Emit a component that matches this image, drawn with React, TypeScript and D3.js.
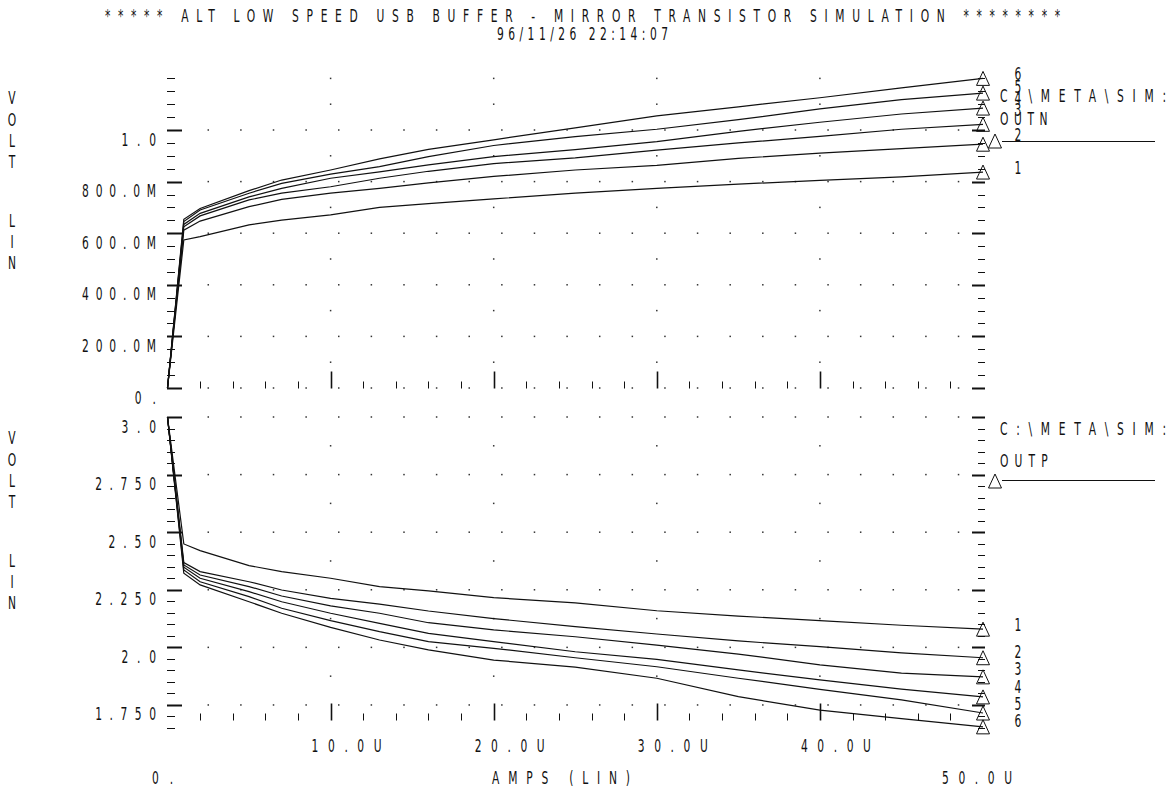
import React from "react";
import * as d3 from "d3";

// ---------- data ----------
const X_AMPS_U = [0, 1, 2, 5, 7, 10, 13, 16, 20, 25, 30, 35, 40, 45, 50];

const OUTN_1 = [0, 0.574, 0.587, 0.632, 0.651, 0.671, 0.7, 0.715, 0.733, 0.755, 0.774, 0.79, 0.805, 0.818, 0.837];
const OUTN_2 = [0, 0.612, 0.647, 0.703, 0.731, 0.755, 0.774, 0.795, 0.82, 0.845, 0.863, 0.89, 0.91, 0.928, 0.945];
const OUTN_3 = [0, 0.625, 0.667, 0.729, 0.755, 0.78, 0.813, 0.84, 0.87, 0.892, 0.922, 0.95, 0.975, 1.003, 1.022];
const OUTN_4 = [0, 0.634, 0.677, 0.741, 0.774, 0.813, 0.838, 0.865, 0.897, 0.924, 0.955, 0.995, 1.03, 1.062, 1.085];
const OUTN_5 = [0, 0.645, 0.69, 0.755, 0.793, 0.829, 0.858, 0.897, 0.94, 0.974, 1.003, 1.04, 1.082, 1.118, 1.143];
const OUTN_6 = [0, 0.654, 0.696, 0.765, 0.806, 0.845, 0.888, 0.925, 0.962, 1.008, 1.055, 1.09, 1.125, 1.163, 1.2];

const OUTP_1 = [3.0, 2.449, 2.42, 2.355, 2.329, 2.3, 2.264, 2.245, 2.216, 2.193, 2.159, 2.136, 2.116, 2.096, 2.079];
const OUTP_2 = [3.0, 2.368, 2.329, 2.285, 2.249, 2.213, 2.188, 2.158, 2.125, 2.09, 2.058, 2.028, 2.003, 1.976, 1.955];
const OUTP_3 = [3.0, 2.358, 2.314, 2.264, 2.223, 2.18, 2.148, 2.107, 2.076, 2.046, 2.01, 1.971, 1.924, 1.888, 1.872];
const OUTP_4 = [3.0, 2.348, 2.3, 2.242, 2.198, 2.148, 2.104, 2.061, 2.025, 1.981, 1.948, 1.902, 1.859, 1.819, 1.785];
const OUTP_5 = [3.0, 2.336, 2.285, 2.22, 2.17, 2.116, 2.068, 2.025, 1.996, 1.955, 1.916, 1.866, 1.818, 1.772, 1.715];
const OUTP_6 = [3.0, 2.322, 2.271, 2.198, 2.148, 2.087, 2.032, 1.989, 1.945, 1.914, 1.866, 1.786, 1.728, 1.691, 1.655];

const OUTN_SERIES = [OUTN_1, OUTN_2, OUTN_3, OUTN_4, OUTN_5, OUTN_6];
const OUTP_SERIES = [OUTP_1, OUTP_2, OUTP_3, OUTP_4, OUTP_5, OUTP_6];
const SERIES_NAMES = ["1", "2", "3", "4", "5", "6"];

const TOP_TICK_LABELS = ["0.", "200.0M", "400.0M", "600.0M", "800.0M", "1.0"];
const TOP_TICK_VALUES = [0, 0.2, 0.4, 0.6, 0.8, 1.0];
const BOT_TICK_LABELS = ["1.750", "2.0", "2.250", "2.50", "2.750", "3.0"];
const BOT_TICK_VALUES = [1.75, 2.0, 2.25, 2.5, 2.75, 3.0];
const X_TICK_LABELS = ["10.0U", "20.0U", "30.0U", "40.0U"];
const X_TICK_VALUES = [10, 20, 30, 40];

const TITLE = "***** ALT LOW SPEED USB BUFFER - MIRROR TRANSISTOR SIMULATION ********";
const DATE = "96/11/26 22:14:07";
const Y_TITLE = ["V", "O", "L", "T", "L", "I", "N"];
const X_TITLE = "AMPS (LIN)";
const FILE_LABEL = "C:\\META\\SIM:";
const TOP_NODE = "OUTN";
const BOT_NODE = "OUTP";

// ---------- layout ----------
const W = 1166;
const H = 787;
const FONT = "'DejaVu Sans Condensed', 'DejaVu Sans', sans-serif";
const ADV = 13.2;
const SX = 0.7;
const INK = "#111";

const x = d3.scaleLinear().domain([0, 50]).range([167.5, 983]);
const yTop = d3.scaleLinear().domain([0, 1.2]).range([388, 78.4]);
const yBot = d3.scaleLinear().domain([1.65, 3.0]).range([728, 417]);

const AXIS_L = 167;
const AXIS_R = 985;

const TOP_LABEL_DY = [-5, -10, -15, -11, -7, -5];
const BOT_LABEL_DY = [-5, -6, -8, -10, -10, -6];
const Y_LETTER_OFF = [19, 41, 62, 83, 142, 163, 184];

function txtLen(s: string) {
  return (s.length - 1) * ADV + 8;
}

function T(props: { x: number; y: number; s: string; anchor?: string; len?: number; size?: number }) {
  const { s, anchor = "start", size = 17 } = props;
  const len = props.len ?? txtLen(s);
  return (
    <text
      transform={`translate(${props.x},${props.y + 6.5}) scale(${SX},1)`}
      x={0}
      y={0}
      textAnchor={anchor}
      textLength={s.length > 1 ? len / SX : undefined}
      lengthAdjust="spacing"
      fontFamily={FONT}
      fontSize={size}
      fill={INK}
      style={{ whiteSpace: "pre" }}
    >
      {s}
    </text>
  );
}

function Triangle({ cx, cy }: { cx: number; cy: number }) {
  const p = `M${cx},${cy - 7} L${cx + 6.5},${cy + 7} L${cx - 6.5},${cy + 7} Z`;
  return <path d={p} fill="none" stroke={INK} strokeWidth={1} />;
}

function Panel(props: {
  y: d3.ScaleLinear<number, number>;
  series: number[][];
  lo: number;
  hi: number;
  minorStep: number;
  tickVals: number[];
  tickLabels: string[];
  rowVals: number[];
  colVals: number[];
  xAxisY: number;
  labelDy: number[];
  letterTop: number;
}) {
  const { y, series } = props;
  const line = d3
    .line<number>()
    .x((_, i) => x(X_AMPS_U[i]))
    .y((v) => y(v));

  const els: React.ReactNode[] = [];
  const n = Math.round((props.hi - props.lo) / props.minorStep);
  for (let i = 0; i <= n; i++) {
    const v = props.lo + i * props.minorStep;
    const isMajor = props.tickVals.some((t) => Math.abs(t - v) < 1e-6);
    const yy = Math.round(y(v)) + 0.5;
    const lenL = isMajor ? 15 : 8;
    const lenR = isMajor ? 13 : 7;
    els.push(
      <line key={"tl" + i} x1={AXIS_L} x2={AXIS_L + lenL} y1={yy} y2={yy} stroke={INK} strokeWidth={isMajor ? 2 : 1} />
    );
    els.push(
      <line key={"tr" + i} x1={AXIS_R - lenR} x2={AXIS_R} y1={yy} y2={yy} stroke={INK} strokeWidth={isMajor ? 2 : 1} />
    );
  }
  for (let u = 2; u < 50; u += 2) {
    const isMajor = u % 10 === 0;
    const xx = Math.round(x(u)) + 0.5;
    els.push(
      <line
        key={"xt" + u}
        x1={xx}
        x2={xx}
        y1={props.xAxisY}
        y2={props.xAxisY - (isMajor ? 17 : 7)}
        stroke={INK}
        strokeWidth={isMajor ? 1.6 : 1}
      />
    );
  }
  props.rowVals.forEach((v, ri) => {
    for (let u = 2.5; u < 50; u += 2) {
      els.push(<rect key={`r${ri}-${u}`} x={x(u) - 0.75} y={y(v) - 0.75} width={1.5} height={1.5} fill="#333" />);
    }
  });
  [10, 20, 30, 40].forEach((u) => {
    props.colVals.forEach((v, ci) => {
      els.push(<rect key={`c${u}-${ci}`} x={x(u) - 0.75} y={y(v) - 0.75} width={1.5} height={1.5} fill="#333" />);
    });
  });
  props.tickVals.forEach((v, i) => {
    els.push(<T key={"yl" + i} x={156} y={y(v) + 9} s={props.tickLabels[i]} anchor="end" />);
  });
  Y_TITLE.forEach((c, i) => {
    els.push(<T key={"yt" + i} x={12} y={props.letterTop + Y_LETTER_OFF[i]} s={c} anchor="middle" />);
  });
  series.forEach((s, i) => {
    els.push(<path key={"c" + i} d={line(s) || ""} fill="none" stroke={INK} strokeWidth={1.2} />);
  });
  series.forEach((s, i) => {
    const ey = y(s[s.length - 1]);
    els.push(<Triangle key={"m" + i} cx={983} cy={ey} />);
    els.push(<T key={"n" + i} x={1018} y={ey + props.labelDy[i]} s={SERIES_NAMES[i]} anchor="middle" />);
  });
  return <g>{els}</g>;
}

export default function App() {
  return (
    <svg
      width={W}
      height={H}
      style={{ position: "absolute", left: 0, top: 0, background: "#fff" }}
      xmlns="http://www.w3.org/2000/svg"
    >
      <rect x={0} y={0} width={W} height={H} fill="#fff" />
      <T x={105} y={15} s={TITLE} len={955} />
      <T x={497} y={33} s={DATE} len={171} />

      <Panel
        y={yTop}
        series={OUTN_SERIES}
        lo={0}
        hi={1.2}
        minorStep={0.05}
        tickVals={TOP_TICK_VALUES}
        tickLabels={TOP_TICK_LABELS}
        rowVals={[0, 0.2, 0.4, 0.6, 0.8, 1.0]}
        colVals={[0.1, 0.3, 0.5, 0.7, 0.9, 1.1, 1.2]}
        xAxisY={388.5}
        labelDy={TOP_LABEL_DY}
        letterTop={78}
      />
      <Panel
        y={yBot}
        series={OUTP_SERIES}
        lo={1.65}
        hi={3.0}
        minorStep={0.05}
        tickVals={BOT_TICK_VALUES}
        tickLabels={BOT_TICK_LABELS}
        rowVals={[1.75, 2.0, 2.25, 2.5, 2.75, 3.0]}
        colVals={[1.875, 2.125, 2.375, 2.625, 2.875]}
        xAxisY={720.5}
        labelDy={BOT_LABEL_DY}
        letterTop={418}
      />

      {/* legends */}
      <T x={1000} y={95} s={FILE_LABEL} len={166} />
      <T x={1000} y={118} s={TOP_NODE} />
      <Triangle cx={995} cy={141} />
      <line x1={1002} x2={1155} y1={141.5} y2={141.5} stroke={INK} strokeWidth={1} />

      <T x={1000} y={428} s={FILE_LABEL} len={166} />
      <T x={1000} y={460} s={BOT_NODE} />
      <Triangle cx={995} cy={481} />
      <line x1={1002} x2={1155} y1={480.5} y2={480.5} stroke={INK} strokeWidth={1} />

      {/* x axis labels */}
      {X_TICK_VALUES.map((u, i) => (
        <T key={"xl" + i} x={x(u) + 16} y={745} s={X_TICK_LABELS[i]} anchor="middle" len={70} />
      ))}
      <T x={152} y={777} s="0." />
      <T x={942} y={777} s="50.0U" len={70} />
      <T x={492} y={777} s={X_TITLE} len={138} />
    </svg>
  );
}
